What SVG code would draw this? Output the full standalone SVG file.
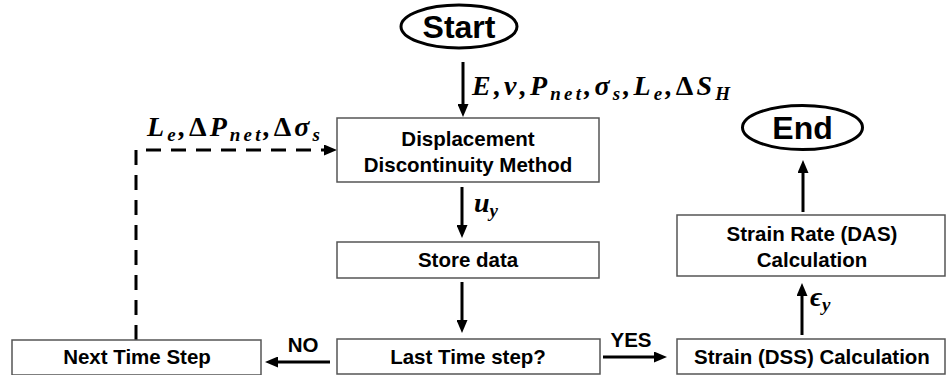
<svg xmlns="http://www.w3.org/2000/svg" width="947" height="375" viewBox="0 0 947 375">
<defs>
<style>
.box{fill:#fff;stroke:#555;stroke-width:1.5}
.term{fill:#fff;stroke:#000;stroke-width:3}
.lbl{font-family:"Liberation Sans",Arial,sans-serif;font-weight:bold;font-size:20.5px;fill:#000;text-anchor:middle}
.big{font-family:"Liberation Sans",Arial,sans-serif;font-weight:bold;font-size:32px;fill:#000;text-anchor:middle}
.math{font-family:"Liberation Serif","Times New Roman",serif;font-weight:bold;font-style:italic;font-size:28px;fill:#000}
.sub{font-size:19px}
.up{font-style:normal}
.conn{stroke:#000;stroke-width:3;fill:none}
.dash{stroke-dasharray:15 10}
</style>
<marker id="ah" markerUnits="userSpaceOnUse" markerWidth="13" markerHeight="11" viewBox="0 0 13 11" refX="2" refY="5.5" orient="auto">
<path d="M0,0 L13,5.5 L0,11 z" fill="#000"/>
</marker>
</defs>

<g id="connectors">
<line class="conn" x1="463" y1="62" x2="463" y2="106" marker-end="url(#ah)"/>
<polyline class="conn dash" points="136,340 136,150 326,150" marker-end="url(#ah)"/>
<line class="conn" x1="462" y1="187" x2="462" y2="227" marker-end="url(#ah)"/>
<line class="conn" x1="462" y1="282" x2="462" y2="322" marker-end="url(#ah)"/>
<line class="conn" x1="330" y1="362" x2="276" y2="362" marker-end="url(#ah)"/>
<line class="conn" x1="603" y1="357" x2="656" y2="357" marker-end="url(#ah)"/>
<line class="conn" x1="802" y1="335" x2="802" y2="294" marker-end="url(#ah)"/>
<line class="conn" x1="803" y1="212" x2="803" y2="171" marker-end="url(#ah)"/>
<text class="math" x="472" y="95" textLength="258" lengthAdjust="spacing">E,ν,P<tspan class="sub" dy="5">net</tspan><tspan dy="-5">,σ</tspan><tspan class="sub" dy="5">s</tspan><tspan dy="-5">,L</tspan><tspan class="sub" dy="5">e</tspan><tspan dy="-5">,</tspan><tspan class="up">Δ</tspan>S<tspan class="sub" dy="5">H</tspan></text>
<text class="math" x="147" y="136" textLength="173" lengthAdjust="spacing">L<tspan class="sub" dy="5">e</tspan><tspan dy="-5">,</tspan><tspan class="up">Δ</tspan>P<tspan class="sub" dy="5">net</tspan><tspan dy="-5">,</tspan><tspan class="up">Δ</tspan>σ<tspan class="sub" dy="5">s</tspan></text>
<text class="math" x="474" y="212">u<tspan class="sub" dy="5">y</tspan></text>
<text class="math" x="810" y="306">ϵ<tspan class="sub" dy="5">y</tspan></text>
<text class="lbl" x="303" y="352">NO</text>
<text class="lbl" x="631" y="347">YES</text>
</g>

<g id="start">
<ellipse class="term" cx="459" cy="26.5" rx="58" ry="21.5"/>
<text class="big" x="459" y="38">Start</text>
</g>

<g id="ddm">
<rect class="box" x="337" y="118" width="262" height="64"/>
<text class="lbl" x="468" y="146">Displacement</text>
<text class="lbl" x="468" y="172">Discontinuity Method</text>
</g>

<g id="store">
<rect class="box" x="337" y="242" width="262" height="36"/>
<text class="lbl" x="468" y="267">Store data</text>
</g>

<g id="last">
<rect class="box" x="337" y="339" width="263" height="35"/>
<text class="lbl" x="468" y="364">Last Time step?</text>
</g>

<g id="next">
<rect class="box" x="12" y="340" width="249" height="35"/>
<text class="lbl" x="137" y="364">Next Time Step</text>
</g>

<g id="strain">
<rect class="box" x="677" y="339" width="268" height="35"/>
<text class="lbl" x="812" y="364">Strain (DSS) Calculation</text>
</g>

<g id="rate">
<rect class="box" x="677" y="215" width="268" height="61"/>
<text class="lbl" x="812" y="241">Strain Rate (DAS)</text>
<text class="lbl" x="812" y="267">Calculation</text>
</g>

<g id="end">
<ellipse class="term" cx="802.5" cy="127.5" rx="60" ry="22"/>
<text class="big" x="802.5" y="139">End</text>
</g>
</svg>
